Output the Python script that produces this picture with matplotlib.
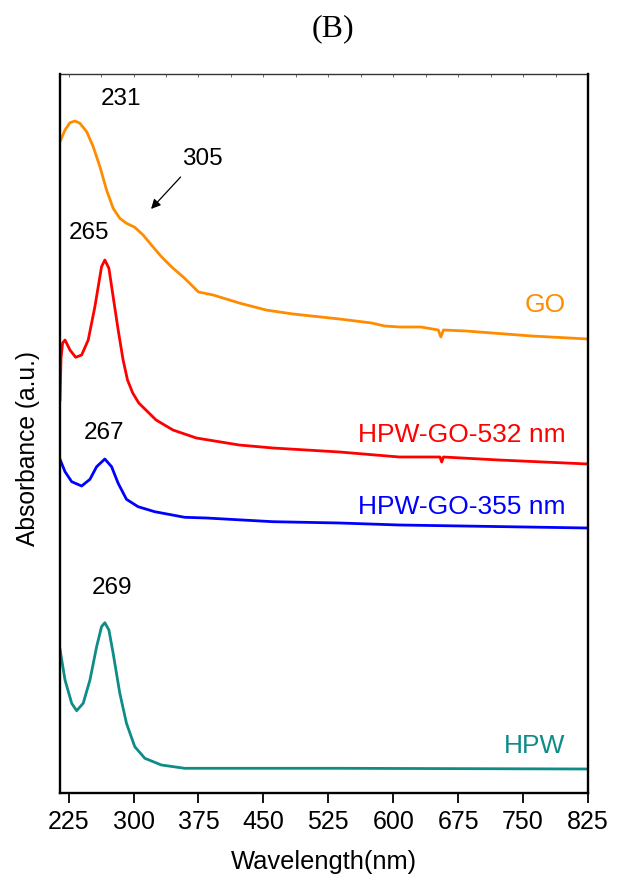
"""UV-vis absorbance spectra, panel (B)."""

import numpy as np
import matplotlib
matplotlib.use('Agg')
import matplotlib.pyplot as plt

plt.rcParams['font.family'] = ['Liberation Sans', 'DejaVu Sans']

# ------------------------------------------------------------------
# Data (wavelength in nm, absorbance in a.u., stacked with offsets)
# ------------------------------------------------------------------

go_wl = [215, 220.8, 226.5, 232.3, 238, 245.8, 253.4, 261.1, 268.8, 276.4, 284.1,
         291.8, 301.4, 311, 320.6, 332.2, 343.7, 359, 375, 392, 422, 453, 484,
         538, 575, 590, 607, 632, 652, 655, 658, 684, 760, 825]
go_abs = [6.513, 6.63, 6.703, 6.72, 6.697, 6.613, 6.463, 6.263, 6.03, 5.847, 5.747,
          5.697, 5.657, 5.58, 5.48, 5.363, 5.263, 5.147, 5.01, 4.98, 4.90, 4.83,
          4.79, 4.74, 4.70, 4.67, 4.66, 4.66, 4.63, 4.56, 4.63, 4.62, 4.57, 4.54]

r532_wl = [215, 216.2, 218, 220.8, 226.5, 233.1, 240, 247.6, 255.3, 263, 266.8,
           271.5, 276.4, 282.2, 287.9, 293, 299, 306, 326, 345.5, 372.5, 422, 461,
           538, 607, 649, 654, 656, 658, 722, 825]
r532_abs = [3.93, 4.347, 4.50, 4.53, 4.43, 4.357, 4.38, 4.53, 4.863, 5.263, 5.33,
            5.247, 4.963, 4.63, 4.33, 4.13, 4.00, 3.90, 3.73, 3.63, 3.55, 3.48, 3.45,
            3.41, 3.36, 3.36, 3.36, 3.31, 3.36, 3.33, 3.29]

b355_wl = [215, 220.8, 228.5, 240, 249.6, 257.3, 266.8, 274.6, 282.2, 291.8, 305.2,
           324.4, 359, 384, 461, 538, 607, 825]
b355_abs = [3.337, 3.213, 3.113, 3.07, 3.137, 3.263, 3.34, 3.263, 3.097, 2.937,
            2.863, 2.813, 2.757, 2.75, 2.713, 2.70, 2.68, 2.65]

hpw_wl = [215, 220.8, 228.5, 234.2, 241.8, 249.6, 257.3, 263, 266.8, 271.5, 276.4,
          284.1, 291.8, 301.4, 313, 332.2, 359, 422.4, 537.6, 825]
hpw_abs = [1.437, 1.13, 0.897, 0.823, 0.897, 1.13, 1.463, 1.663, 1.703, 1.63,
           1.397, 0.997, 0.697, 0.463, 0.347, 0.28, 0.247, 0.247, 0.247, 0.24]

SERIES = [
    (go_wl, go_abs, '#FF8C00', 'GO', 4.88),
    (r532_wl, r532_abs, '#FF0000', 'HPW-GO-532 nm', 3.58),
    (b355_wl, b355_abs, '#0000FF', 'HPW-GO-355 nm', 2.86),
    (hpw_wl, hpw_abs, '#0E8C88', 'HPW', 0.47),
]

# peak annotations: (text, wavelength, absorbance)
PEAKS = [('231', 286, 6.94), ('305', 380, 6.34), ('265', 249, 5.60),
         ('267', 265.5, 3.60), ('269', 275, 2.055)]

XTICKS = np.arange(225, 826, 75)


def main():
    fig = plt.figure(figsize=(6.24, 8.88), dpi=100)
    ax = fig.add_axes([60 / 624, 95 / 888, 528 / 624, 719 / 888])

    for wl, ab, color, label, ly in SERIES:
        ax.plot(wl, ab, color=color, linewidth=2.0, solid_joinstyle='round')
        ax.text(799, ly, label, color=color, fontsize=19, ha='right', va='center')

    for txt, x, y in PEAKS:
        ax.text(x, y, txt, fontsize=17.5, ha='center', va='center')

    ax.annotate('', xy=(318, 5.82), xytext=(356.5, 6.18),
                arrowprops=dict(arrowstyle='-|>', color='black', lw=0.9,
                                mutation_scale=14))

    ax.set_xlim(215, 825)
    ax.set_ylim(0, 7.19)
    ax.set_xticks(XTICKS)
    ax.set_yticks([])
    ax.tick_params(axis='x', direction='out', length=7, width=1.3,
                   labelsize=18, pad=5)

    # small inward ticks along the top edge
    top = ax.secondary_xaxis('top')
    top.set_xticks(np.arange(225, 826, 37.5))
    top.tick_params(direction='in', length=2.5, width=0.6, labeltop=False,
                    color='#555555')
    top.spines['top'].set_linewidth(1.0)
    top.spines['top'].set_color('#333333')
    ax.spines['top'].set_visible(False)

    for s in ('left', 'bottom', 'right'):
        ax.spines[s].set_linewidth(1.7)

    ax.set_xlabel('Wavelength(nm)', fontsize=18.4, labelpad=12)
    fig.text(28 / 624, 1 - 448 / 888, 'Absorbance (a.u.)', fontsize=17.7,
             rotation=90, ha='center', va='center')
    fig.text(333 / 624, 1 - 29 / 888, '(B)', fontsize=23, ha='center',
             va='center', family=['Liberation Serif', 'DejaVu Serif'])

    fig.savefig('out.png', dpi=100)
    plt.close(fig)


if __name__ == '__main__':
    main()
